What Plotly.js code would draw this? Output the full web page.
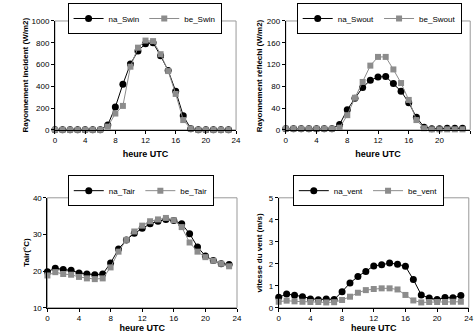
<!DOCTYPE html>
<html><head><meta charset="utf-8">
<script src="https://cdn.plot.ly/plotly-3.0.1.min.js"></script>
<style>html,body{margin:0;padding:0;background:#fff}#g{width:474px;height:333px}</style>
</head><body><div id="g"></div>
<script>
const hours = [0,1,2,3,4,5,6,7,8,9,10,11,12,13,14,15,16,17,18,19,20,21,22,23];
const naSwin = [0,0,0,0,0,0,0,45,210,420,605,725,790,800,680,545,355,130,10,0,0,0,0,0];
const beSwin = [0,0,0,0,0,0,0,30,150,220,580,755,820,815,695,540,330,90,10,0,0,0,0,0];
const naSwout = [2,2,2,2,2,2,2,10,37,58,78,91,97,98,85,71,50,23,5,2,2,3,3,3];
const beSwout = [2,2,2,2,2,2,2,4,27,59,88,118,134,134,111,86,55,18,3,1,1,1,1,1];
const naTair = [19.8,20.8,20.4,20.2,19.5,19.2,19.0,19.2,22.2,26.0,28.5,30.3,31.7,32.9,33.6,34.1,33.8,32.9,30.2,26.6,24.1,22.9,22.0,21.8];
const beTair = [18.8,19.7,19.2,19.0,18.4,18.0,17.8,18.0,21.0,25.3,28.5,30.8,32.4,33.6,34.1,34.5,33.9,32.0,27.8,25.3,23.8,22.8,22.0,21.3];
const naVent = [0.47,0.62,0.57,0.5,0.4,0.36,0.4,0.37,0.73,1.12,1.42,1.65,1.9,1.95,2.03,1.98,1.88,1.28,0.58,0.44,0.37,0.46,0.45,0.55];
const beVent = [0.27,0.32,0.29,0.27,0.26,0.26,0.24,0.25,0.35,0.5,0.68,0.8,0.85,0.88,0.88,0.83,0.58,0.33,0.24,0.26,0.26,0.26,0.27,0.27];
const names = [["na_Swin","be_Swin"],["na_Swout","be_Swout"],["na_Tair","be_Tair"],["na_vent","be_vent"]];
const yTitles = ["Rayonnement incident (W/m2)","Rayonnement réfléchi (W/m2)","Tair(°C)","vitesse du vent (m/s)"];
const yRanges = [[0,1000],[0,200],[10,40],[0,5]];
const yDtick = [200,40,10,1];
const series = [[naSwin,beSwin],[naSwout,beSwout],[naTair,beTair],[naVent,beVent]];

const FONT = "Liberation Sans, Arial, sans-serif";
const traces = [];
series.forEach((s,i)=>{
  const sfx = i===0?"":String(i+1);
  const lg = i===0?"legend":"legend"+(i+1);
  traces.push({x:hours,y:s[0],name:names[i][0],type:"scatter",mode:"lines+markers",
    xaxis:"x"+sfx,yaxis:"y"+sfx,legend:lg,cliponaxis:false,
    line:{color:"#000",width:1},marker:{symbol:"circle",size:7,color:"#000"}});
  traces.push({x:hours,y:s[1],name:names[i][1],type:"scatter",mode:"lines+markers",
    xaxis:"x"+sfx,yaxis:"y"+sfx,legend:lg,cliponaxis:false,
    line:{color:"#8c8c8c",width:1},marker:{symbol:"square",size:6,color:"#8c8c8c"}});
});

const xDom = [[0.116,0.498],[0.603,0.992],[0.100,0.500],[0.588,0.989]];
const yDom = [[0.610,0.937],[0.610,0.937],[0.076,0.406],[0.076,0.406]];
const legPos = [[0.305,0.991],[0.800,0.991],[0.297,0.474],[0.777,0.474]];
const yTitleX = [0.053,0.548,0.057,0.548];

const layout = {width:474,height:333,margin:{l:0,r:0,t:0,b:0},
  paper_bgcolor:"#fff",plot_bgcolor:"#fff",showlegend:true,
  font:{family:FONT,size:8,color:"#000"},shapes:[],annotations:[]};
for(let i=0;i<4;i++){
  const sfx = i===0?"":String(i+1);
  layout["xaxis"+sfx] = {domain:xDom[i],anchor:"y"+sfx,range:[0,24],dtick:4,tick0:0,
    showgrid:false,zeroline:false,showline:true,linecolor:"#000",linewidth:1,
    ticks:"outside",ticklen:3,tickcolor:"#000",tickfont:{size:8,family:FONT},
    title:{text:"<b>heure UTC</b>",font:{size:9,family:FONT},standoff:6}};
  layout["yaxis"+sfx] = {domain:yDom[i],anchor:"x"+sfx,range:yRanges[i],dtick:yDtick[i],
    showgrid:false,zeroline:false,showline:true,linecolor:"#000",linewidth:1,
    ticks:"outside",ticklen:3,tickcolor:"#000",tickfont:{size:8,family:FONT}};
  layout.annotations.push({text:"<b>"+yTitles[i]+"</b>",xref:"paper",yref:"paper",
    x:yTitleX[i],y:(yDom[i][0]+yDom[i][1])/2,xanchor:"center",yanchor:"middle",
    textangle:-90,showarrow:false,font:{size:8,family:FONT,color:"#000"}});
  const lg = i===0?"legend":"legend"+(i+1);
  layout[lg] = {x:legPos[i][0],y:legPos[i][1],xanchor:"center",yanchor:"top",
    xref:"paper",yref:"paper",orientation:"h",bordercolor:"#000",borderwidth:1,
    bgcolor:"#fff",font:{size:8,family:FONT},itemwidth:30,tracegroupgap:0};
  layout.shapes.push({type:"rect",xref:"x"+sfx+" domain",yref:"y"+sfx+" domain",
    x0:0,x1:1,y0:0,y1:1,line:{color:"#999",width:1},layer:"below"});
}
Plotly.newPlot("g",traces,layout,{staticPlot:true,displayModeBar:false});
</script></body></html>
